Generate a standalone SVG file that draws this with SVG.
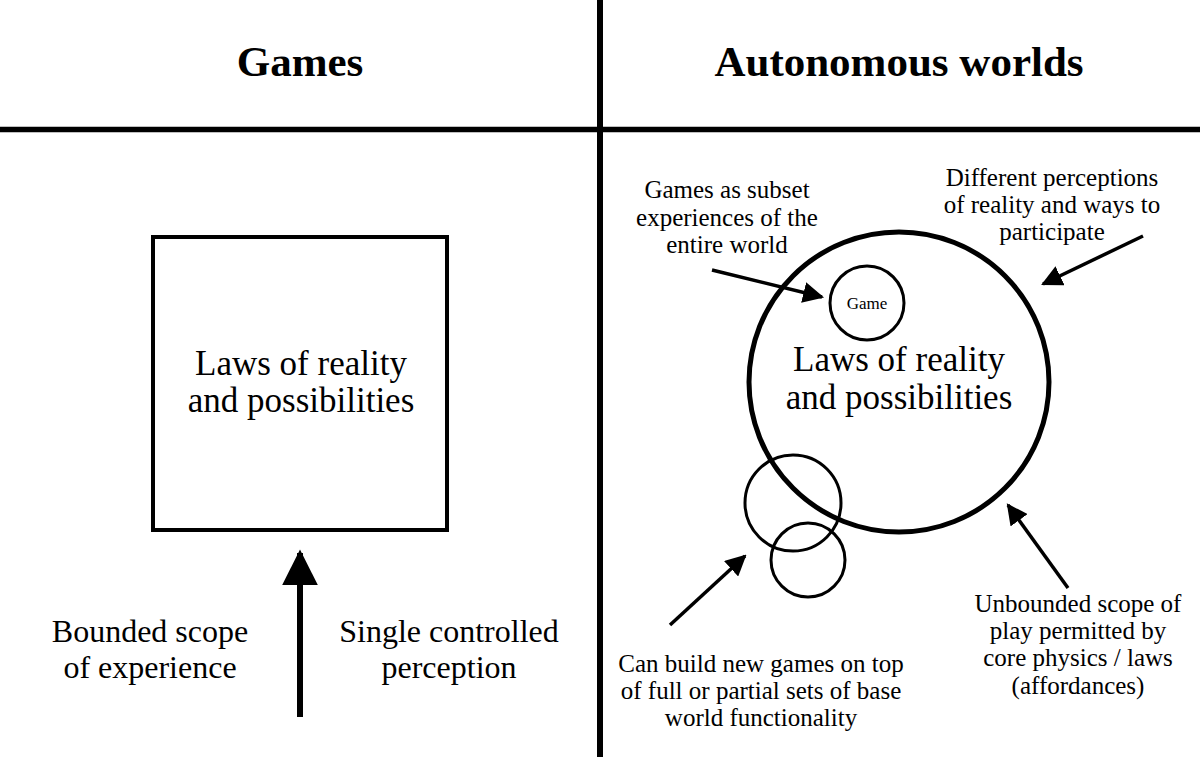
<svg xmlns="http://www.w3.org/2000/svg" width="1200" height="757" viewBox="0 0 1200 757">
<style>
text{font-family:"Liberation Serif","Times New Roman",serif;fill:#000;text-anchor:middle}
.title{font-size:43px;font-weight:bold}
.big{font-size:35px}
.side{font-size:32px}
.note{font-size:25px}
.ln{stroke:#000;fill:none}
</style>
<defs>
<marker id="ah" viewBox="0 0 10 10" refX="9" refY="5" markerWidth="6" markerHeight="6" markerUnits="strokeWidth" orient="auto">
<path d="M0,0 L10,5 L0,10 z" fill="#000"/>
</marker>
</defs>
<rect width="1200" height="757" fill="#fff"/>
<g id="frame">
<line class="ln" x1="600" y1="0" x2="600" y2="757" stroke-width="6"/>
<line class="ln" x1="0" y1="129.5" x2="1200" y2="129.5" stroke-width="5.5"/>
</g>
<g id="title-games"><text class="title" x="300" y="76">Games</text></g>
<g id="title-worlds"><text class="title" x="899" y="76">Autonomous worlds</text></g>
<g id="games-box">
<rect class="ln" x="153" y="237" width="294" height="293" stroke-width="4"/>
<text class="big" x="301" y="375">Laws of reality</text>
<text class="big" x="301" y="412">and possibilities</text>
</g>
<g id="world-circle">
<circle class="ln" cx="899" cy="382" r="150" stroke-width="5"/>
<text class="big" x="899" y="371">Laws of reality</text>
<text class="big" x="899" y="409">and possibilities</text>
</g>
<g id="game-circle">
<circle class="ln" cx="867" cy="303" r="37" stroke-width="3"/>
<text x="867" y="309" style="font-size:17px">Game</text>
</g>
<g id="sub-circle-1"><circle class="ln" cx="793" cy="503" r="48" stroke-width="3"/></g>
<g id="sub-circle-2"><circle class="ln" cx="808" cy="560" r="37" stroke-width="3"/></g>
<g id="label-bounded"><text class="side" x="150" y="642">Bounded scope</text><text class="side" x="150" y="678">of experience</text></g>
<g id="label-single"><text class="side" x="449" y="642">Single controlled</text><text class="side" x="449" y="678">perception</text></g>
<g id="label-subset"><text class="note" x="727" y="198">Games as subset</text><text class="note" x="727" y="226">experiences of the</text><text class="note" x="727" y="253">entire world</text></g>
<g id="label-different"><text class="note" x="1052" y="186">Different perceptions</text><text class="note" x="1052" y="213">of reality and ways to</text><text class="note" x="1052" y="240">participate</text></g>
<g id="label-unbounded"><text class="note" x="1078" y="612">Unbounded scope of</text><text class="note" x="1078" y="639">play permitted by</text><text class="note" x="1078" y="666">core physics / laws</text><text class="note" x="1078" y="694">(affordances)</text></g>
<g id="label-build"><text class="note" x="761" y="672">Can build new games on top</text><text class="note" x="761" y="699">of full or partial sets of base</text><text class="note" x="761" y="726">world functionality</text></g>
<g id="connectors">
<line class="ln" x1="300" y1="717" x2="300" y2="553" stroke-width="6" marker-end="url(#ah)"/>
<line class="ln" x1="712" y1="270" x2="822" y2="297" stroke-width="3.5" marker-end="url(#ah)"/>
<line class="ln" x1="1143" y1="236" x2="1043" y2="284" stroke-width="3.5" marker-end="url(#ah)"/>
<line class="ln" x1="1068" y1="588" x2="1008" y2="505" stroke-width="3.5" marker-end="url(#ah)"/>
<line class="ln" x1="670" y1="625" x2="745" y2="556" stroke-width="3.5" marker-end="url(#ah)"/>
</g>
</svg>
